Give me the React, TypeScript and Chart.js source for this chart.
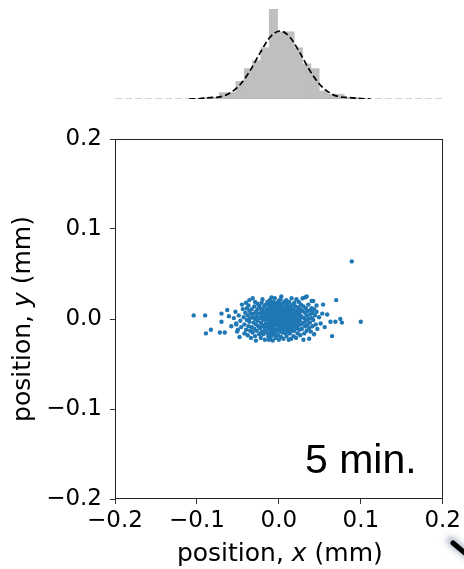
import React, { useEffect, useRef } from 'react';
import { Chart, registerables } from 'chart.js';

Chart.register(...registerables);

// ---------- data ----------
const axisMin = -0.2;
const axisMax = 0.2;
const tickValues = [-0.2, -0.1, 0.0, 0.1, 0.2];

// histogram of x positions (bin centres, counts)
const histBinCenters = [
  -0.0888, -0.0787, -0.0686, -0.0585, -0.0484, -0.0383, -0.0282, -0.0181, -0.008,
  0.0021, 0.0122, 0.0223, 0.0324, 0.0425, 0.0526, 0.0627, 0.0728, 0.0829, 0.093,
];
const histCounts = [1, 1, 4, 4, 11, 19, 24, 32, 56, 42, 42, 32, 22, 19, 5, 3, 3, 1, 1];
const histMaxCount = 60;

// gaussian fit curve
const fitX = [-0.11, -0.097, -0.085, -0.073, -0.0606, -0.0485, -0.0364, -0.0242, -0.0121, 0, 0.0121, 0.0242, 0.0364, 0.0485, 0.0606, 0.073, 0.085, 0.097, 0.11];
const fitY = [0, 0.2, 0.9, 1.3, 3.7, 8.9, 17.6, 28.8, 38.6, 42.5, 38.6, 28.8, 17.6, 8.9, 3.7, 1.3, 0.9, 0.2, 0];

// scatter points (x mm, y mm)
const scatterPoints: [number, number][] = [
  [0.089, 0.064], [0.1, -0.003], [0.07, 0.021], [0.063, -0.003], [0.069, -0.003], [0.075, 0.0], [0.077, -0.004],
  [0.065, -0.019], [0.054, 0.016], [0.059, 0.005], [0.04, 0.02], [0.042, 0.02], [0.032, 0.024], [0.029, 0.023],
  [0.046, 0.015], [0.04, 0.012], [-0.104, 0.004], [-0.09, 0.004], [-0.07, 0.006], [-0.07, -0.003], [-0.061, 0.003],
  [-0.055, 0.001], [-0.089, -0.016], [-0.083, -0.012], [-0.072, -0.015], [-0.066, -0.015], [-0.052, -0.006],
  [-0.05, -0.012], [-0.048, -0.02], [-0.046, -0.009], [-0.028, -0.024], [0.0, -0.023], [0.015, -0.022],
  [0.03, -0.023], [0.037, -0.022], [-0.032, 0.023], [-0.036, 0.021], [0.0, 0.02], [0.034, 0.025],
  [-0.044, 0.011], [-0.026, 0.017], [-0.052, -0.005], [-0.058, -0.008], [-0.063, 0.01],
  [-0.053, 0.008], [-0.049, 0.004], [-0.047, -0.002], [-0.045, 0.016], [-0.051, -0.014],
  [-0.043, 0.002], [-0.042, -0.006], [-0.041, 0.007], [-0.04, -0.012], [-0.039, 0.012], [-0.039, -0.001],
  [-0.038, -0.018], [-0.038, 0.004], [-0.037, -0.008], [-0.037, 0.015], [-0.036, -0.003], [-0.036, 0.009],
  [-0.035, -0.013], [-0.035, 0.001], [-0.034, -0.021], [-0.034, 0.006], [-0.04, 0.018], [-0.042, -0.016],
  [-0.033, -0.009], [-0.033, 0.011], [-0.032, 0.002], [-0.032, -0.015], [-0.031, 0.006], [-0.031, -0.004],
  [-0.03, 0.014], [-0.03, -0.011], [-0.029, 0.0], [-0.029, 0.019], [-0.029, -0.019], [-0.028, 0.008],
  [-0.028, -0.006], [-0.027, 0.003], [-0.027, -0.013], [-0.026, 0.011], [-0.026, -0.002], [-0.025, -0.008],
  [-0.025, 0.006], [-0.024, 0.015], [-0.024, -0.017],
  [-0.023, 0.001], [-0.023, -0.01], [-0.023, 0.012], [-0.022, -0.004], [-0.022, 0.007], [-0.022, -0.021],
  [-0.021, 0.018], [-0.021, -0.014], [-0.021, 0.003], [-0.02, -0.007], [-0.02, 0.01], [-0.02, 0.022],
  [-0.019, -0.001], [-0.019, -0.017], [-0.019, 0.005], [-0.018, 0.014], [-0.018, -0.009], [-0.018, 0.0],
  [-0.017, -0.012], [-0.017, 0.008], [-0.017, -0.023], [-0.016, 0.003], [-0.016, 0.016], [-0.016, -0.005],
  [-0.015, 0.011], [-0.015, -0.015], [-0.015, 0.0], [-0.014, 0.006], [-0.014, -0.008], [-0.014, 0.019],
  [-0.013, -0.002], [-0.013, -0.019],
  [-0.0125, 0.009], [-0.0125, -0.011], [-0.012, 0.002], [-0.012, 0.015], [-0.012, -0.006], [-0.0115, -0.016],
  [-0.0115, 0.005], [-0.011, -0.001], [-0.011, 0.012], [-0.011, 0.021], [-0.0105, -0.009], [-0.0105, 0.007],
  [-0.01, -0.003], [-0.01, -0.02], [-0.01, 0.017], [-0.0095, 0.001], [-0.0095, -0.013], [-0.009, 0.01],
  [-0.009, -0.006], [-0.009, 0.004], [-0.0085, -0.018], [-0.0085, 0.014], [-0.008, -0.001], [-0.008, 0.008],
  [-0.008, -0.01], [-0.0075, 0.003], [-0.0075, 0.019], [-0.0075, -0.024], [-0.007, -0.005], [-0.007, 0.012],
  [-0.007, -0.014], [-0.0065, 0.0], [-0.0065, 0.006], [-0.006, -0.008], [-0.006, 0.016], [-0.006, -0.002],
  [-0.0055, 0.01], [-0.0055, -0.017], [-0.005, 0.002], [-0.005, -0.011], [-0.005, 0.023], [-0.0045, 0.007],
  [-0.0045, -0.004], [-0.004, 0.013], [-0.004, -0.007], [-0.004, -0.021], [-0.0035, 0.001], [-0.0035, 0.018],
  [-0.0035, -0.013], [-0.003, 0.005], [-0.003, -0.001], [-0.012, -0.023], [-0.009, 0.024], [-0.006, 0.009],
  [-0.008, -0.004], [-0.0045, -0.015],
  [-0.0025, 0.009], [-0.002, -0.006], [-0.002, 0.014], [-0.0015, 0.002], [-0.0015, -0.012], [-0.001, 0.006],
  [-0.001, -0.018], [-0.0005, -0.002], [-0.0005, 0.011], [0.0, 0.004], [0.0, -0.009], [0.0005, 0.016],
  [0.0005, -0.004], [0.001, 0.001], [0.001, -0.014], [0.0015, 0.008], [0.0015, -0.007], [0.002, 0.022],
  [0.002, 0.012], [0.002, -0.001], [0.0025, -0.02], [0.0025, 0.005], [0.003, -0.01], [0.003, 0.003],
  [0.0035, 0.017], [0.0035, -0.005], [0.004, 0.009], [0.004, -0.015], [0.0045, 0.0], [0.0045, 0.013],
  [0.005, -0.008], [0.005, 0.006], [0.0055, -0.002], [0.0055, -0.022], [0.006, 0.01], [0.006, -0.012],
  [0.0065, 0.003], [0.0065, 0.019], [0.0065, -0.006], [0.003, 0.025],
  [0.0075, 0.007], [0.0075, -0.01], [0.008, 0.001], [0.008, 0.015], [0.008, -0.016], [0.0085, -0.004],
  [0.0085, 0.01], [0.009, 0.004], [0.009, -0.008], [0.009, 0.021], [0.0095, -0.001], [0.0095, -0.019],
  [0.01, 0.012], [0.01, 0.006], [0.01, -0.012], [0.0105, 0.002], [0.0105, 0.017], [0.011, -0.006],
  [0.011, 0.008], [0.0115, -0.014], [0.0115, -0.002], [0.012, 0.013], [0.012, 0.004], [0.012, -0.023],
  [0.0125, -0.009], [0.0125, 0.019], [0.013, 0.0], [0.013, 0.009], [0.0135, -0.005], [0.0135, -0.016],
  [0.014, 0.005], [0.014, 0.014], [0.0145, -0.011], [0.0145, 0.002], [0.015, 0.01], [0.015, -0.003],
  [0.0155, 0.023], [0.016, -0.007], [0.016, 0.006], [0.0165, -0.013], [0.0165, 0.016],
  [0.0175, 0.001], [0.0175, -0.009], [0.018, 0.011], [0.018, -0.019], [0.0185, 0.005], [0.0185, -0.004],
  [0.019, 0.018], [0.019, -0.013], [0.0195, 0.008], [0.02, -0.001], [0.02, 0.014], [0.0205, -0.007],
  [0.021, 0.003], [0.021, -0.021], [0.0215, 0.022], [0.022, -0.01], [0.022, 0.009], [0.0225, -0.003],
  [0.023, 0.005], [0.023, -0.016], [0.0235, 0.013], [0.024, 0.0], [0.024, -0.007], [0.0245, 0.019],
  [0.025, 0.007], [0.025, -0.012], [0.0255, -0.002], [0.026, 0.011], [0.026, -0.018], [0.0265, 0.004],
  [0.027, -0.006], [0.027, 0.016],
  [0.028, 0.002], [0.028, -0.011], [0.029, 0.009], [0.03, -0.004], [0.03, 0.014], [0.031, 0.001],
  [0.031, -0.016], [0.032, 0.007], [0.032, -0.008], [0.033, 0.012], [0.033, -0.002], [0.034, -0.013],
  [0.034, 0.004], [0.035, 0.009], [0.035, -0.006], [0.036, 0.016], [0.036, 0.0], [0.037, -0.01],
  [0.038, 0.005], [0.038, -0.004], [0.039, 0.01], [0.039, -0.014], [0.04, 0.001], [0.041, -0.008],
  [0.041, 0.007], [0.042, -0.001], [0.043, 0.011], [0.043, -0.017], [0.044, 0.004], [0.045, -0.006],
  [0.046, 0.008], [0.047, -0.011],
  [0.049, 0.002], [0.051, -0.005], [0.053, 0.006], [0.056, -0.009],
];

const xLabelParts = ['position, ', 'x', ' (mm)'];
const yLabelParts = ['position, ', 'y', ' (mm)'];
const annotationText = '5 min.';

// ---------- helpers ----------
const fmt = (v: number) => {
  const r = Math.round(v * 10) / 10;
  const s = Math.abs(r).toFixed(1);
  return r < 0 ? '\u2212' + s : s;
};

const TICK_FONT = { family: '"DejaVu Sans", sans-serif', size: 23 };
const LABEL_FONT = '25px "DejaVu Sans", sans-serif';
const LABEL_FONT_I = 'italic 25px "DejaVu Sans", sans-serif';

function drawMixedLabel(ctx: CanvasRenderingContext2D, parts: string[], cx: number, cy: number, rot: number) {
  ctx.save();
  ctx.translate(cx, cy);
  ctx.rotate(rot);
  ctx.fillStyle = '#000';
  ctx.textBaseline = 'alphabetic';
  ctx.textAlign = 'left';
  const fonts = parts.map((_, i) => (i === 1 ? LABEL_FONT_I : LABEL_FONT));
  const widths = parts.map((p, i) => {
    ctx.font = fonts[i];
    return ctx.measureText(p).width;
  });
  const total = widths.reduce((a, b) => a + b, 0);
  let x = -total / 2;
  parts.forEach((p, i) => {
    ctx.font = fonts[i];
    ctx.fillText(p, x, 0);
    x += widths[i];
  });
  ctx.restore();
}

const decorPlugin = {
  id: 'decor',
  afterDraw(chart: any) {
    const ctx = chart.ctx as CanvasRenderingContext2D;
    const a = chart.chartArea;
    // frame
    ctx.save();
    ctx.strokeStyle = '#222';
    ctx.lineWidth = 1;
    ctx.strokeRect(Math.round(a.left) + 0.5, Math.round(a.top) + 0.5, Math.round(a.right - a.left) - 1, Math.round(a.bottom - a.top) - 1);
    ctx.restore();
    // axis titles
    drawMixedLabel(ctx, xLabelParts, (a.left + a.right) / 2 + 1, 561, 0);
    drawMixedLabel(ctx, yLabelParts, 30, (a.top + a.bottom) / 2, -Math.PI / 2);
    // annotation
    ctx.save();
    ctx.font = '41px "Liberation Sans", Arial, sans-serif';
    ctx.fillStyle = '#000';
    ctx.textBaseline = 'alphabetic';
    ctx.textAlign = 'left';
    ctx.fillText(annotationText, 305, 473);
    ctx.restore();
    // corner fragment
    ctx.save();
    ctx.shadowColor = 'rgba(70,90,130,0.75)';
    ctx.shadowBlur = 7;
    ctx.shadowOffsetX = -3;
    ctx.shadowOffsetY = -3;
    ctx.strokeStyle = '#000';
    ctx.lineWidth = 5;
    ctx.lineCap = 'round';
    ctx.beginPath();
    ctx.moveTo(453, 543);
    ctx.lineTo(472, 559);
    ctx.stroke();
    ctx.restore();
  },
};

export default function App() {
  const scRef = useRef<HTMLCanvasElement>(null);
  const hRef = useRef<HTMLCanvasElement>(null);

  useEffect(() => {
    const axisCommon = (isX: boolean) => ({
      type: 'linear' as const,
      min: axisMin,
      max: axisMax,
      afterBuildTicks: (s: any) => {
        s.ticks = tickValues.map((v) => ({ value: v }));
      },
      afterFit: (s: any) => {
        if (isX) s.height = 70;
        else s.width = 115;
      },
      grid: { drawOnChartArea: false, drawTicks: true, tickLength: 5, color: '#333', lineWidth: 1 },
      border: { display: false },
      ticks: {
        font: TICK_FONT,
        color: '#000',
        padding: isX ? 3 : 8,
        maxRotation: 0,
        autoSkip: false,
        callback: (v: any) => fmt(Number(v)),
      },
    });

    const sc = new Chart(scRef.current!, {
      type: 'scatter',
      data: {
        datasets: [
          {
            data: scatterPoints.map(([x, y]) => ({ x, y })),
            backgroundColor: '#1f77b4',
            borderWidth: 0,
            pointRadius: 2.2,
          },
        ],
      },
      options: {
        animation: false,
        responsive: false,
        devicePixelRatio: 1,
        layout: { padding: { left: 0, right: 19, top: 139, bottom: 0 } },
        plugins: { legend: { display: false }, tooltip: { enabled: false } },
        scales: { x: axisCommon(true), y: axisCommon(false) } as any,
      },
      plugins: [decorPlugin],
    });

    const h = new Chart(hRef.current!, {
      type: 'bar',
      data: {
        datasets: [
          {
            type: 'line',
            data: fitX.map((x, i) => ({ x, y: fitY[i] })),
            borderColor: '#000',
            borderWidth: 1.7,
            borderDash: [6, 3],
            pointRadius: 0,
            cubicInterpolationMode: 'monotone',
            order: 0,
          } as any,
          {
            type: 'line',
            data: [
              { x: axisMin, y: 0 },
              { x: axisMax, y: 0 },
            ],
            borderColor: '#a8a8a8',
            borderWidth: 1,
            borderDash: [7, 3],
            pointRadius: 0,
            order: 1,
          } as any,
          {
            type: 'bar',
            data: histBinCenters.map((x, i) => ({ x, y: histCounts[i] })),
            backgroundColor: '#bfbfbf',
            borderWidth: 0,
            barPercentage: 1,
            categoryPercentage: 1,
            order: 2,
          } as any,
        ],
      },
      options: {
        animation: false,
        responsive: false,
        devicePixelRatio: 1,
        layout: { padding: { left: 115, right: 19, top: 3, bottom: 11 } },
        plugins: { legend: { display: false }, tooltip: { enabled: false } },
        scales: {
          x: { type: 'linear', min: axisMin, max: axisMax, display: false, offset: false },
          y: { type: 'linear', min: 0, max: histMaxCount, display: false },
        } as any,
      },
    });

    return () => {
      sc.destroy();
      h.destroy();
    };
  }, []);

  return (
    <div style={{ position: 'absolute', left: 0, top: 0, width: 464, height: 569, background: '#fff' }}>
      <canvas ref={scRef} width={464} height={569} style={{ position: 'absolute', left: 0, top: 0, width: 464, height: 569 }} />
      <canvas ref={hRef} width={464} height={110} style={{ position: 'absolute', left: 0, top: 0, width: 464, height: 110 }} />
    </div>
  );
}
